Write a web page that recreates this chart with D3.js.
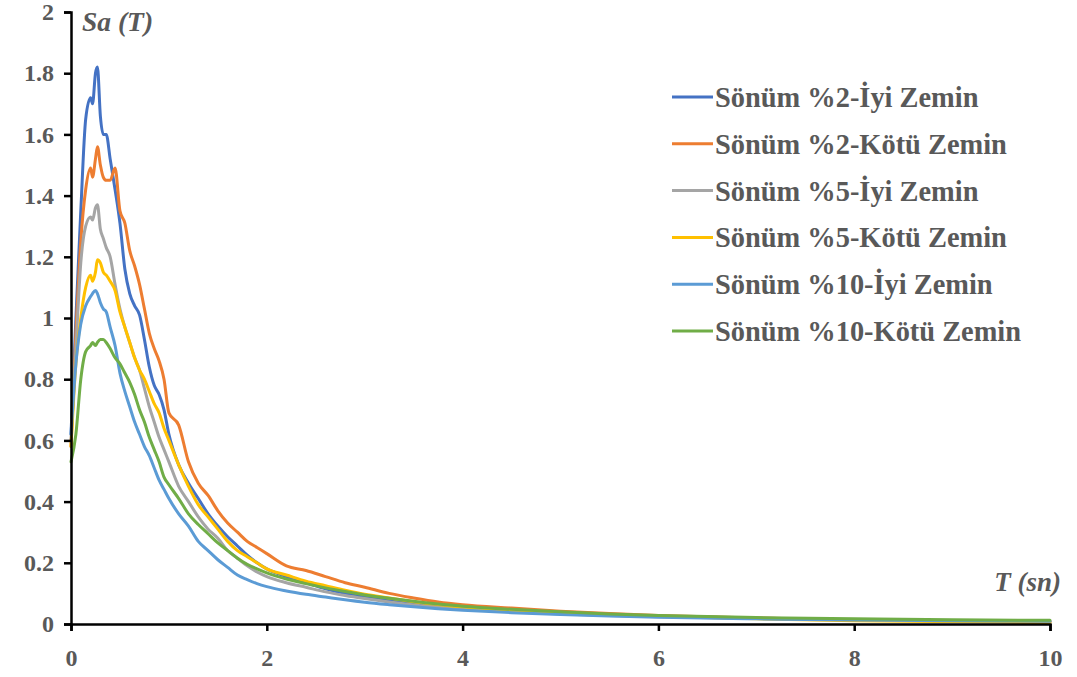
<!DOCTYPE html>
<html>
<head>
<meta charset="utf-8">
<script src="https://cdn.jsdelivr.net/npm/d3@7/dist/d3.min.js"></script>
<style>
  html, body { margin: 0; padding: 0; background: #fff; }
  svg { display: block; }
  .tick text { font-family: "Liberation Serif", "Times New Roman", serif; font-weight: bold; fill: #595959; }
</style>
</head>
<body>
<svg id="chart" width="1077" height="677"></svg>
<script>
// Period values (s)
const periods = [0, 0.05, 0.1, 0.15, 0.2, 0.22, 0.25, 0.27, 0.3, 0.33, 0.36, 0.4, 0.45, 0.5, 0.55, 0.6, 0.65, 0.7, 0.75, 0.8, 0.85, 0.9, 0.95, 1.0, 1.1, 1.2, 1.3, 1.4, 1.5, 1.6, 1.7, 1.8, 1.9, 2.0, 2.2, 2.4, 2.6, 2.8, 3.0, 3.25, 3.5, 3.75, 4.0, 4.5, 5, 5.5, 6, 7, 8, 9, 10];

// Spectral acceleration per series
const sonum2Iyi = [0.62, 1.0, 1.35, 1.65, 1.72, 1.70, 1.80, 1.82, 1.66, 1.60, 1.60, 1.52, 1.42, 1.31, 1.16, 1.08, 1.04, 1.01, 0.93, 0.84, 0.78, 0.75, 0.70, 0.62, 0.52, 0.46, 0.41, 0.36, 0.32, 0.285, 0.255, 0.225, 0.20, 0.18, 0.155, 0.135, 0.115, 0.10, 0.088, 0.077, 0.066, 0.058, 0.052, 0.042, 0.035, 0.030, 0.026, 0.019, 0.014, 0.011, 0.008];
const sonum2Kotu = [0.58, 0.95, 1.25, 1.42, 1.49, 1.46, 1.52, 1.56, 1.50, 1.46, 1.45, 1.45, 1.49, 1.35, 1.31, 1.22, 1.17, 1.11, 1.03, 0.95, 0.90, 0.86, 0.80, 0.69, 0.65, 0.53, 0.46, 0.42, 0.37, 0.33, 0.30, 0.27, 0.25, 0.23, 0.19, 0.175, 0.155, 0.135, 0.12, 0.10, 0.085, 0.072, 0.063, 0.052, 0.042, 0.034, 0.028, 0.020, 0.013, 0.010, 0.007];
const sonum5Iyi = [0.60, 0.90, 1.18, 1.30, 1.33, 1.32, 1.36, 1.37, 1.29, 1.26, 1.23, 1.20, 1.11, 1.03, 0.97, 0.92, 0.87, 0.83, 0.77, 0.71, 0.66, 0.61, 0.57, 0.53, 0.45, 0.40, 0.35, 0.31, 0.28, 0.24, 0.215, 0.19, 0.17, 0.155, 0.135, 0.12, 0.105, 0.093, 0.083, 0.072, 0.062, 0.055, 0.048, 0.040, 0.033, 0.028, 0.024, 0.018, 0.014, 0.011, 0.009];
const sonum5Kotu = [0.58, 0.85, 1.00, 1.10, 1.14, 1.12, 1.15, 1.19, 1.18, 1.15, 1.14, 1.12, 1.09, 1.02, 0.97, 0.92, 0.87, 0.83, 0.80, 0.76, 0.72, 0.69, 0.64, 0.60, 0.52, 0.45, 0.39, 0.35, 0.31, 0.27, 0.24, 0.22, 0.20, 0.18, 0.16, 0.14, 0.125, 0.11, 0.097, 0.085, 0.073, 0.064, 0.056, 0.045, 0.037, 0.030, 0.025, 0.017, 0.011, 0.008, 0.005];
const sonum10Iyi = [0.62, 0.85, 0.98, 1.04, 1.07, 1.08, 1.09, 1.08, 1.05, 1.03, 1.02, 0.97, 0.91, 0.82, 0.76, 0.71, 0.66, 0.62, 0.58, 0.55, 0.51, 0.47, 0.44, 0.41, 0.36, 0.32, 0.27, 0.24, 0.21, 0.185, 0.16, 0.145, 0.132, 0.122, 0.108, 0.097, 0.088, 0.079, 0.071, 0.063, 0.056, 0.050, 0.045, 0.037, 0.031, 0.026, 0.022, 0.017, 0.013, 0.011, 0.009];
const sonum10Kotu = [0.53, 0.62, 0.80, 0.89, 0.91, 0.92, 0.91, 0.92, 0.93, 0.93, 0.92, 0.90, 0.87, 0.85, 0.82, 0.79, 0.75, 0.70, 0.66, 0.61, 0.57, 0.53, 0.48, 0.455, 0.41, 0.36, 0.325, 0.295, 0.265, 0.24, 0.215, 0.195, 0.18, 0.167, 0.147, 0.132, 0.118, 0.106, 0.095, 0.084, 0.074, 0.065, 0.058, 0.048, 0.040, 0.033, 0.028, 0.021, 0.017, 0.014, 0.012];

const seriesNames = ["Sönüm %2-İyi Zemin", "Sönüm %2-Kötü Zemin", "Sönüm %5-İyi Zemin", "Sönüm %5-Kötü Zemin", "Sönüm %10-İyi Zemin", "Sönüm %10-Kötü Zemin"];
const seriesValues = [sonum2Iyi, sonum2Kotu, sonum5Iyi, sonum5Kotu, sonum10Iyi, sonum10Kotu];
const seriesColors = ["#4472C4", "#ED7D31", "#A5A5A5", "#FFC000", "#5B9BD5", "#70AD47"];

const xTicks = [0, 2, 4, 6, 8, 10];
const yTicks = [0, 0.2, 0.4, 0.6, 0.8, 1, 1.2, 1.4, 1.6, 1.8, 2];

const svg = d3.select("#chart");
const plot = { left: 71, right: 1050, top: 12, bottom: 624 };

const x = d3.scaleLinear().domain([0, 10]).range([plot.left, plot.right]);
const y = d3.scaleLinear().domain([0, 2]).range([plot.bottom, plot.top]);

const serif = '"Liberation Serif", "Times New Roman", serif';
const textGray = "#595959";

// Curves
const line = d3.line()
  .x(d => x(d[0]))
  .y(d => y(d[1]))
  .curve(d3.curveMonotoneX);

const lines = svg.append("g").attr("class", "series");
seriesValues.forEach((vals, i) => {
  lines.append("path")
    .datum(periods.map((t, k) => [t, vals[k]]))
    .attr("fill", "none")
    .attr("stroke", seriesColors[i])
    .attr("stroke-width", 3)
    .attr("stroke-linejoin", "round")
    .attr("stroke-linecap", "round")
    .attr("d", line);
});

// Axes
const yAxis = d3.axisLeft(y).tickValues(yTicks).tickSize(7).tickPadding(10)
  .tickFormat(d => d3.format("")(+d.toFixed(1)));
const gy = svg.append("g").attr("transform", `translate(${plot.left},0)`).call(yAxis);
gy.select(".domain").attr("stroke", "#000").attr("stroke-width", 2.5);
gy.selectAll(".tick line").attr("stroke", "#000").attr("stroke-width", 2.5);
gy.selectAll(".tick text").attr("font-size", 24);

const xAxis = d3.axisBottom(x).tickValues(xTicks).tickSize(7).tickPadding(18).tickFormat(d3.format("d"));
const gx = svg.append("g").attr("transform", `translate(0,${plot.bottom})`).call(xAxis);
gx.select(".domain").attr("stroke", "#000").attr("stroke-width", 2.5);
gx.selectAll(".tick line").attr("stroke", "#000").attr("stroke-width", 2.5);
gx.selectAll(".tick text").attr("font-size", 24);

// Axis titles
svg.append("text")
  .attr("x", 82).attr("y", 31)
  .attr("font-family", serif).attr("font-weight", "bold").attr("font-style", "italic")
  .attr("font-size", 27.5).attr("fill", textGray)
  .text("Sa (T)");

svg.append("text")
  .attr("x", 1061).attr("y", 591)
  .attr("text-anchor", "end")
  .attr("font-family", serif).attr("font-weight", "bold").attr("font-style", "italic")
  .attr("font-size", 27).attr("fill", textGray)
  .text("T (sn)");

// Legend
const legend = svg.append("g").attr("class", "legend");
seriesNames.forEach((name, i) => {
  const cy = 97 + i * 46.8;
  legend.append("line")
    .attr("x1", 672).attr("x2", 713)
    .attr("y1", cy).attr("y2", cy)
    .attr("stroke", seriesColors[i]).attr("stroke-width", 3);
  legend.append("text")
    .attr("x", 715).attr("y", cy)
    .attr("dy", "0.35em")
    .attr("font-family", serif).attr("font-weight", "bold")
    .attr("font-size", 28.4).attr("fill", textGray)
    .text(name);
});
</script>
</body>
</html>
